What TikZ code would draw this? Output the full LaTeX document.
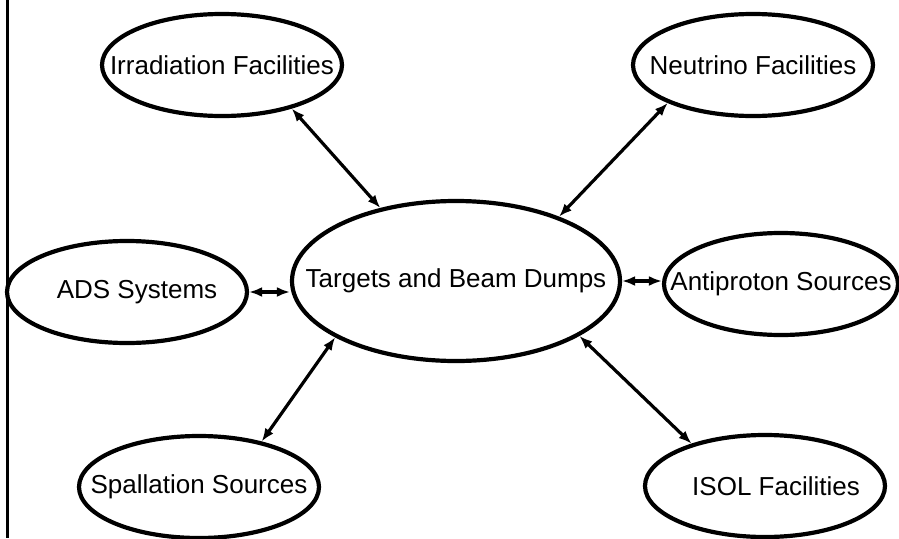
\documentclass[tikz,border=0pt]{standalone}
\usepackage{fontspec}
\setmainfont{Liberation Sans}
\usepackage{tikz}
\usetikzlibrary{arrows.meta,shapes.geometric}

\begin{document}
\begin{tikzpicture}[x=1pt,y=-1pt,every node/.style={font=\fontsize{26}{30}\selectfont},facility/.style={ellipse,draw,line width=4.2pt,minimum width=240pt,minimum height=102pt,inner sep=0pt},link/.style={line width=3.2pt,<->,>={Latex[length=13pt,width=10pt]}}]
\useasboundingbox (0,0) rectangle (899,538);
\draw[line width=3pt] (7,0)--(7,538);
\node[facility,minimum width=328pt,minimum height=160pt] (tgt) at (456,281) {\makebox[0pt]{Targets and Beam Dumps}};
\node[facility] (irr) at (222,65) {\makebox[0pt]{Irradiation Facilities}};
\node[facility] (neu) at (753,65) {\makebox[0pt]{Neutrino Facilities}};
\node[facility] (ads) at (127,292) {\makebox[0pt]{\hspace*{20pt}ADS Systems}};
\node[facility,minimum width=234pt] (anti) at (781,284) {\makebox[0pt]{Antiproton Sources}};
\node[facility] (spal) at (199,487) {\makebox[0pt]{Spallation Sources}};
\node[facility] (isol) at (765,486) {\makebox[0pt]{\hspace*{22pt}ISOL Facilities}};
\draw[link] (irr.-32)--(tgt.136);
\draw[link] (neu.-156)--(tgt.32);
\draw[link] (ads.east)--(ads.east-|tgt.west);
\draw[link] (tgt.east)--(tgt.east-|anti.west);
\draw[link] (spal.36)--(tgt.-155);
\draw[link] (isol.150)--(tgt.-24);
\end{tikzpicture}
\end{document}
